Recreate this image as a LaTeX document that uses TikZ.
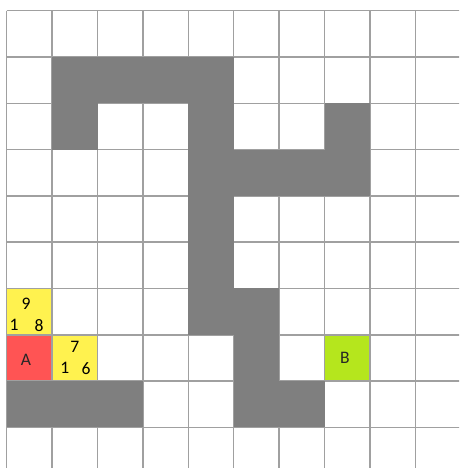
\documentclass[tikz,border=0pt]{standalone}
\usepackage{fontspec}
\setmainfont{Carlito}
\usepackage{tikz}
\usetikzlibrary{positioning}
\definecolor{WallGrey}{HTML}{7F7F7F}
\definecolor{GridGrey}{HTML}{A0A0A0}
\definecolor{OpenYellow}{HTML}{FFF24F}
\definecolor{StartRed}{HTML}{FF5454}
\definecolor{GoalGreen}{HTML}{B5E61D}
\tikzset{
  % Grid cell: one square, filled with #1
  cell/.style={
    rectangle, fill=#1, draw=none,
    minimum width=0.908cm, minimum height=0.926cm,
    inner sep=0pt, outer sep=0pt
  },
  % Cost number inside a cell
  score/.style={font=\fontsize{10}{10}\selectfont, inner sep=0pt, text=black},
  % Start / goal letter
  letter/.style={font=\fontsize{10}{10}\selectfont, inner sep=0pt, text=black!85}
}

\begin{document}
\begin{tikzpicture}[x=0.908cm, y=-0.926cm]
  \clip (-0.148,-0.231) rectangle (9.963,9.877);

  % Coloured cells under the grid
  \node[cell=OpenYellow] (open1) at (0.5,6.5) {};
  \node[cell=StartRed]   (start) at (0.5,7.5) {};
  \node[cell=OpenYellow] (open2) at (1.5,7.5) {};
  \node[cell=GoalGreen]  (goal)  at (7.5,7.5) {};

  % Grid lines
  \foreach \i in {0,...,10} {
    \draw[GridGrey, line width=0.85pt] (\i,0) -- (\i,10);
    \draw[GridGrey, line width=0.85pt] (0,\i) -- (10,\i);
  }

  % Walls
  \foreach \c/\r in {1/1,2/1,3/1,4/1,1/2,4/2,7/2,4/3,5/3,6/3,7/3,
                     4/4,4/5,4/6,5/6,5/7,5/8,6/8,0/8,1/8,2/8}
    \fill[WallGrey] (\c,\r) rectangle ++(1,1);

  % Labels
  \node[letter] (startlbl) at (0.425,7.54) {A};
  \node[letter] (goallbl)  at (7.45,7.50) {B};

  \node[score] (f1) at (0.425,6.32) {9};
  \node[score] (g1) at (0.16,6.79)  {1};
  \node[score] (h1) at (0.71,6.79)  {8};

  \node[score] (f2) at (1.50,7.26) {7};
  \node[score] (g2) at (1.28,7.72) {1};
  \node[score] (h2) at (1.75,7.72) {6};

\end{tikzpicture}
\end{document}
